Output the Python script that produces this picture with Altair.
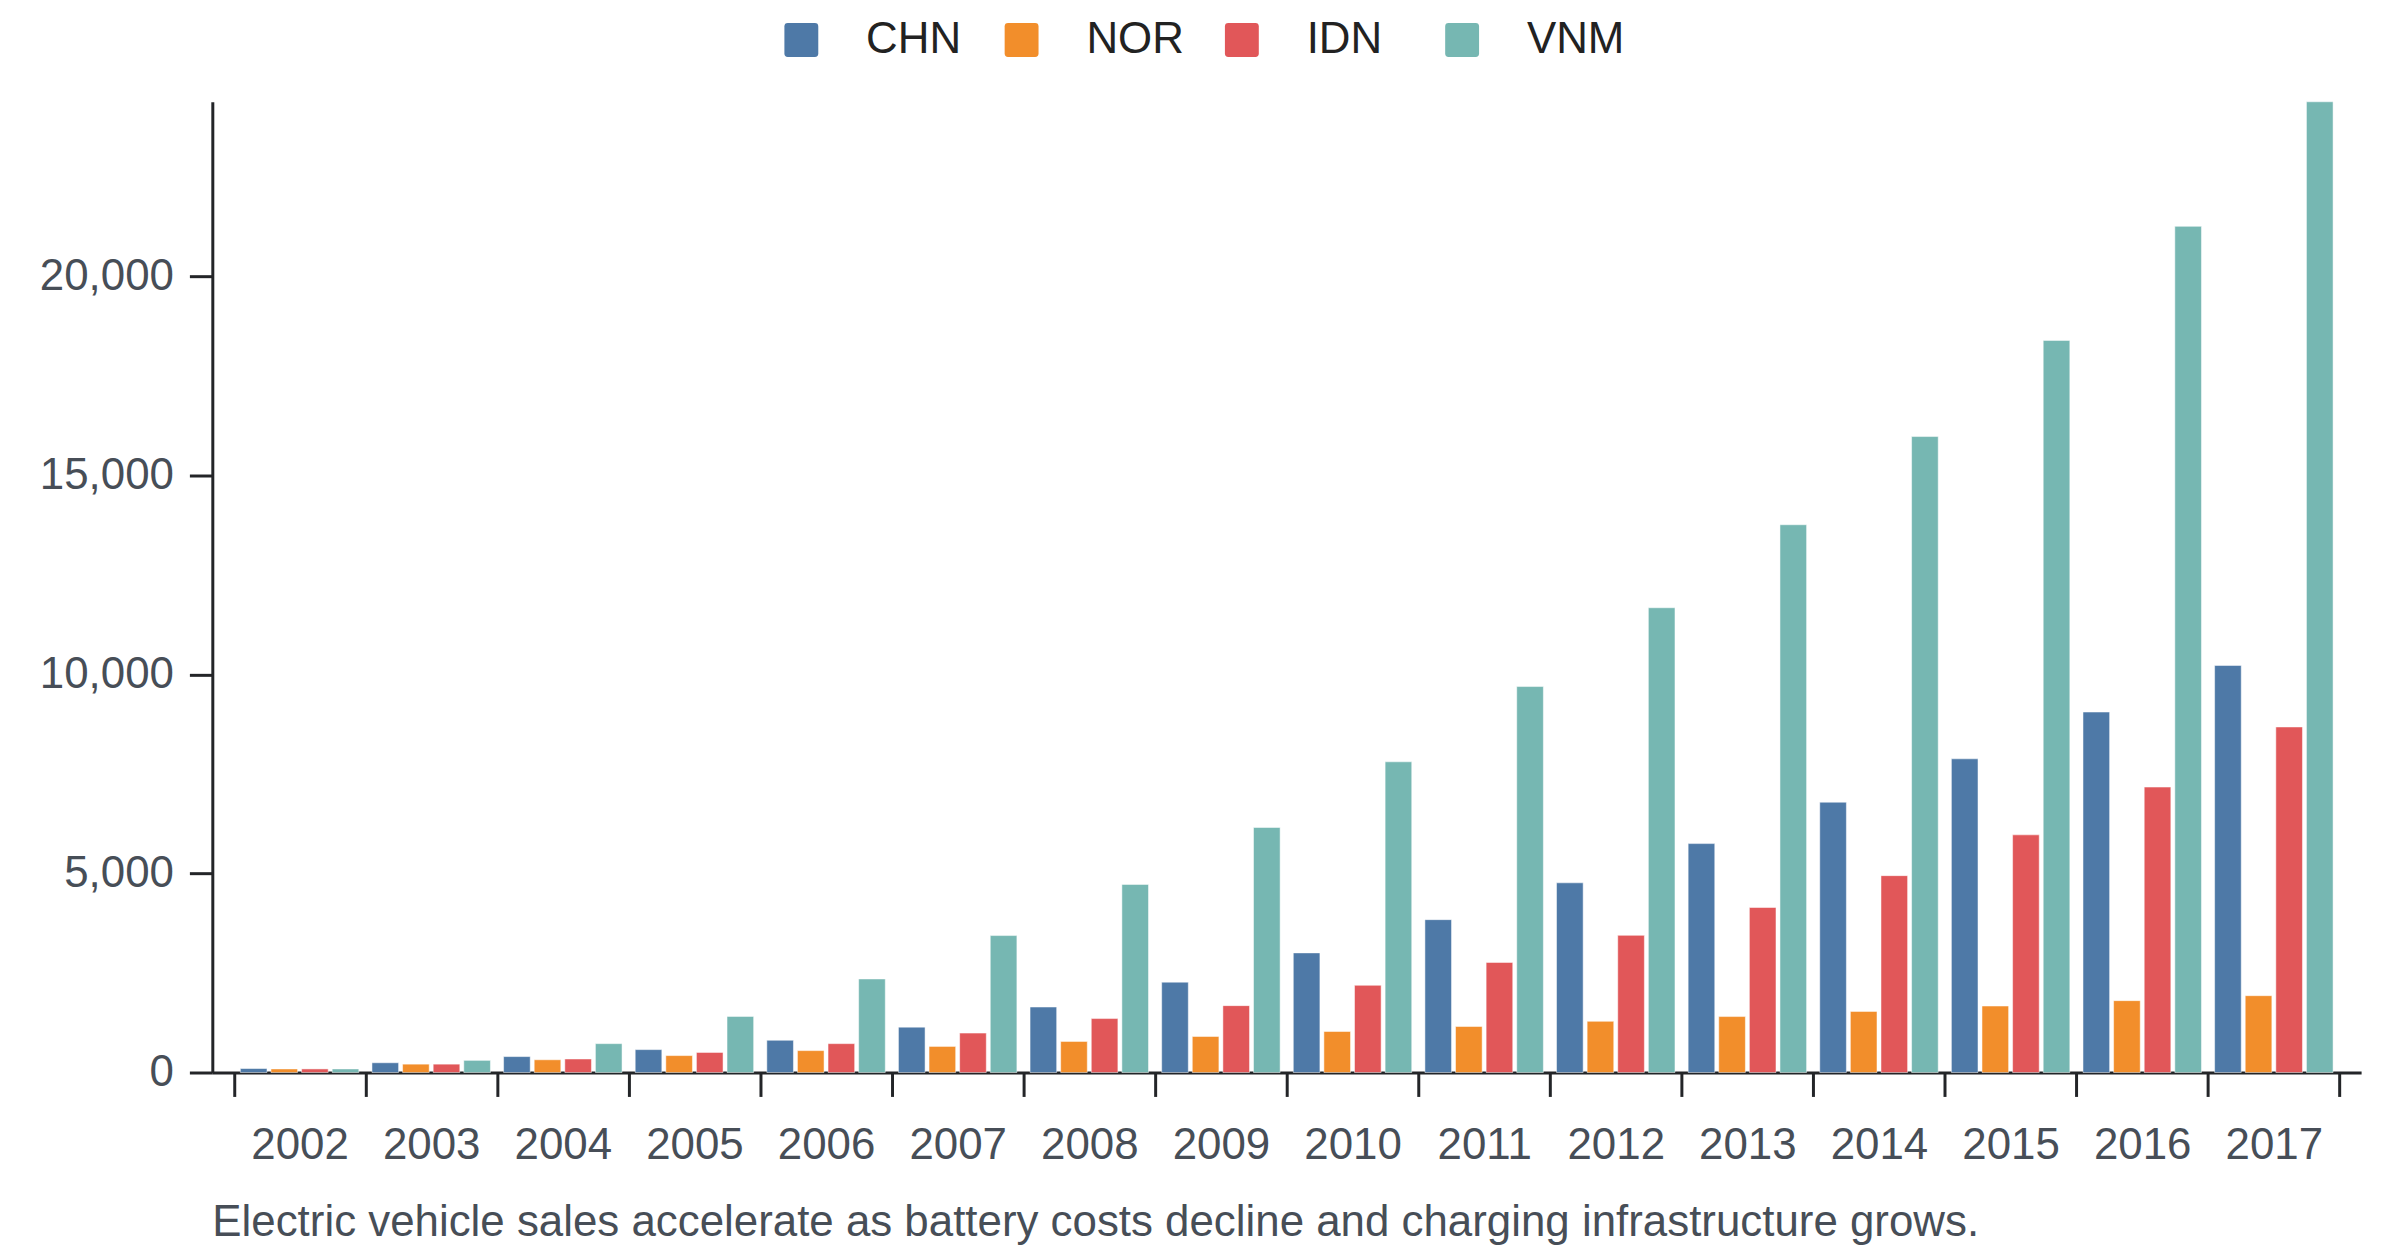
import altair as alt
import pandas as pd

years = [str(y) for y in range(2002, 2018)]
countries = ["CHN", "NOR", "IDN", "VNM"]
colors = ["#4e79a7", "#f28e2b", "#e15759", "#76b7b2"]

chn = [100, 245, 400, 575, 810, 1140, 1645, 2270, 3005, 3840, 4765, 5750, 6790, 7880, 9055, 10225]
nor = [90, 210, 320, 425, 550, 655, 780, 905, 1030, 1155, 1285, 1405, 1535, 1670, 1805, 1930]
idn = [90, 210, 340, 505, 725, 990, 1355, 1680, 2190, 2765, 3445, 4145, 4945, 5970, 7170, 8680]
vnm = [90, 305, 725, 1410, 2350, 3440, 4725, 6155, 7805, 9695, 11675, 13760, 15975, 18390, 21255, 24385]

caption = "Electric vehicle sales accelerate as battery costs decline and charging infrastructure grows."

series = {"CHN": chn, "NOR": nor, "IDN": idn, "VNM": vnm}
rows = []
for c in countries:
    for y, v in zip(years, series[c]):
        rows.append({"year": y, "country": c, "value": v})
df = pd.DataFrame(rows)

FONT = "Liberation Sans"
rounded = "M-1,-0.8Q-1,-1,-0.8,-1L0.8,-1Q1,-1,1,-0.8L1,0.8Q1,1,0.8,1L-0.8,1Q-1,1,-1,0.8Z"

chart = alt.Chart(df).mark_bar(
    stroke="white", strokeWidth=1, strokeOpacity=0.5
).encode(
    x=alt.X("year:N", sort=years,
            scale=alt.Scale(paddingInner=0, paddingOuter=0.163),
            axis=alt.Axis(title=None, labelAngle=0, tickBand="extent",
                          labelFontSize=44, labelFont=FONT, labelColor="#474e57",
                          labelPadding=27, tickSize=24, tickWidth=3, tickColor="#232528",
                          domainWidth=3, domainColor="#232528", grid=False)),
    xOffset=alt.XOffset("country:N", sort=countries,
                        scale=alt.Scale(paddingInner=0.13, paddingOuter=0.215)),
    y=alt.Y("value:Q",
            scale=alt.Scale(nice=False, zero=True),
            axis=alt.Axis(title=None, values=[0, 5000, 10000, 15000, 20000], format=",.0f",
                          labelFontSize=44, labelFont=FONT, labelColor="#474e57",
                          labelPadding=16, tickSize=23, tickWidth=3, tickColor="#232528",
                          domainWidth=3, domainColor="#232528", grid=False)),
    color=alt.Color("country:N", sort=countries,
                    scale=alt.Scale(domain=countries, range=colors),
                    legend=alt.Legend(title=None, orient="none", direction="horizontal",
                                      legendX=569, legendY=-84,
                                      symbolType=rounded, symbolSize=1156,
                                      symbolStrokeWidth=0, gridAlign="all",
                                      labelFontSize=44, labelFont=FONT, labelColor="#222222",
                                      labelOffset=43, columnPadding=36, padding=0)),
).properties(
    width=2156,
    height=974,
    padding={"left": 205, "top": 92, "right": 31, "bottom": 174},
    autosize=alt.AutoSizeParams(type="none"),
    title=alt.TitleParams(caption, orient="bottom", anchor="start", frame="group",
                          fontSize=44, font=FONT, color="#474e57", fontWeight="normal",
                          offset=34),
).configure_view(stroke=None)

chart.save("out.html", embed_options={"renderer": "svg", "actions": False})
